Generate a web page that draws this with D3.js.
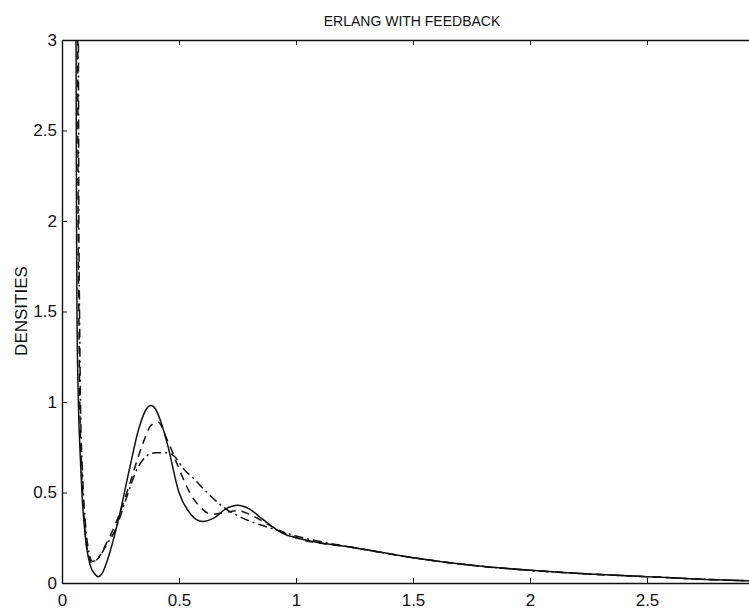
<!DOCTYPE html>
<html>
<head>
<meta charset="utf-8">
<script src="https://cdn.jsdelivr.net/npm/d3@7"></script>
<style>
  body { margin: 0; background: #fff; }
  text { font-family: "Liberation Sans", Arial, sans-serif; fill: #111; }
</style>
</head>
<body>
<script>
// density curves
var solidX = [0.057, 0.060, 0.062, 0.064, 0.070, 0.078, 0.085, 0.10, 0.12, 0.14, 0.155, 0.17, 0.20, 0.25, 0.29, 0.33, 0.36, 0.38, 0.40, 0.42, 0.45, 0.50, 0.55, 0.60, 0.65, 0.70, 0.75, 0.80, 0.85, 0.90, 0.95, 1.0, 1.25, 1.5, 1.75, 2.0, 2.25, 2.5, 2.75, 3.0];
var solidY = [3.4, 3.0, 2.0, 1.5, 1.0, 0.70, 0.50, 0.25, 0.10, 0.05, 0.035, 0.05, 0.15, 0.40, 0.64, 0.86, 0.96, 0.98, 0.96, 0.90, 0.77, 0.50, 0.38, 0.34, 0.36, 0.41, 0.43, 0.41, 0.36, 0.31, 0.27, 0.25, 0.195, 0.14, 0.098, 0.07, 0.05, 0.035, 0.02, 0.01];

var dashX = [0.064, 0.067, 0.069, 0.072, 0.076, 0.085, 0.095, 0.11, 0.13, 0.15, 0.19, 0.23, 0.285, 0.34, 0.38, 0.41, 0.45, 0.51, 0.55, 0.59, 0.64, 0.70, 0.75, 0.80, 0.90, 1.0, 1.25, 1.5, 1.75, 2.0, 2.25, 2.5, 2.75, 3.0];
var dashY = [3.4, 3.0, 2.0, 1.5, 1.0, 0.60, 0.35, 0.17, 0.11, 0.13, 0.22, 0.33, 0.53, 0.75, 0.87, 0.89, 0.79, 0.60, 0.49, 0.42, 0.38, 0.39, 0.40, 0.38, 0.31, 0.25, 0.195, 0.14, 0.098, 0.07, 0.05, 0.035, 0.02, 0.01];

var dotX = [0.067, 0.070, 0.072, 0.075, 0.079, 0.088, 0.10, 0.115, 0.13, 0.15, 0.19, 0.23, 0.27, 0.325, 0.36, 0.40, 0.45, 0.48, 0.52, 0.56, 0.62, 0.67, 0.70, 0.77, 0.85, 0.90, 1.0, 1.25, 1.5, 1.75, 2.0, 2.25, 2.5, 2.75, 3.0];
var dotY = [3.4, 3.0, 2.0, 1.5, 1.0, 0.60, 0.33, 0.17, 0.12, 0.13, 0.21, 0.30, 0.45, 0.64, 0.70, 0.72, 0.72, 0.70, 0.63, 0.58, 0.50, 0.44, 0.41, 0.36, 0.32, 0.30, 0.26, 0.195, 0.14, 0.098, 0.07, 0.05, 0.035, 0.02, 0.01];

var xTicks = [0, 0.5, 1, 1.5, 2, 2.5, 3];
var xLabels = ["0", "0.5", "1", "1.5", "2", "2.5", ""];
var yTicks = [0, 0.5, 1, 1.5, 2, 2.5, 3];
var yLabels = ["0", "0.5", "1", "1.5", "2", "2.5", "3"];

var W = 749, H = 611;
var svg = d3.select("body").append("svg").attr("width", W).attr("height", H);

var x = d3.scaleLinear().domain([0, 3]).range([62, 764]);
var y = d3.scaleLinear().domain([0, 3]).range([583, 40]);

svg.append("defs").append("clipPath").attr("id", "clip")
  .append("rect").attr("x", x(0)).attr("y", y(3)).attr("width", x(3) - x(0)).attr("height", y(0) - y(3));

// axes (box with inward ticks)
svg.append("g").attr("transform", "translate(0," + y(0) + ")")
  .call(d3.axisBottom(x).tickValues(xTicks).tickSizeInner(-5).tickSizeOuter(0).tickPadding(11)
    .tickFormat(function(d, i) { return xLabels[i]; }));
svg.append("g").attr("transform", "translate(0," + y(3) + ")")
  .call(d3.axisTop(x).tickValues(xTicks).tickSizeInner(-5).tickSizeOuter(0).tickFormat(""));
svg.append("g").attr("transform", "translate(" + x(0) + ",0)")
  .call(d3.axisLeft(y).tickValues(yTicks).tickSizeInner(-5).tickSizeOuter(0).tickPadding(5)
    .tickFormat(function(d, i) { return yLabels[i]; }));
svg.append("g").attr("transform", "translate(" + x(3) + ",0)")
  .call(d3.axisRight(y).tickValues(yTicks).tickSizeInner(-5).tickSizeOuter(0).tickFormat(""));

svg.selectAll(".domain").attr("stroke", "#111").attr("stroke-width", 1.4);
svg.selectAll(".tick line").attr("stroke", "#111");
svg.selectAll(".tick text").style("font-size", "17px").style("font-family", "Liberation Sans, Arial, sans-serif")
  .attr("fill", "#111");

// curves
var line = d3.line()
  .x(function(d) { return x(d[0]); })
  .y(function(d) { return y(d[1]); })
  .curve(d3.curveMonotoneX);

var series = [
  { xs: solidX, ys: solidY, dash: null },
  { xs: dashX, ys: dashY, dash: "8,6" },
  { xs: dotX, ys: dotY, dash: "9,4,2,4" }
];
var plot = svg.append("g").attr("clip-path", "url(#clip)");
series.forEach(function(s) {
  plot.append("path")
    .datum(d3.zip(s.xs, s.ys))
    .attr("fill", "none")
    .attr("stroke", "#111")
    .attr("stroke-width", 1.5)
    .attr("stroke-dasharray", s.dash)
    .attr("d", line);
});

// labels
svg.append("text").attr("x", 412).attr("y", 26).attr("text-anchor", "middle")
  .style("font-size", "14px").text("ERLANG WITH FEEDBACK");
svg.append("text").attr("transform", "translate(27,311) rotate(-90)").attr("text-anchor", "middle")
  .style("font-size", "17px").text("DENSITIES");
</script>
</body>
</html>
